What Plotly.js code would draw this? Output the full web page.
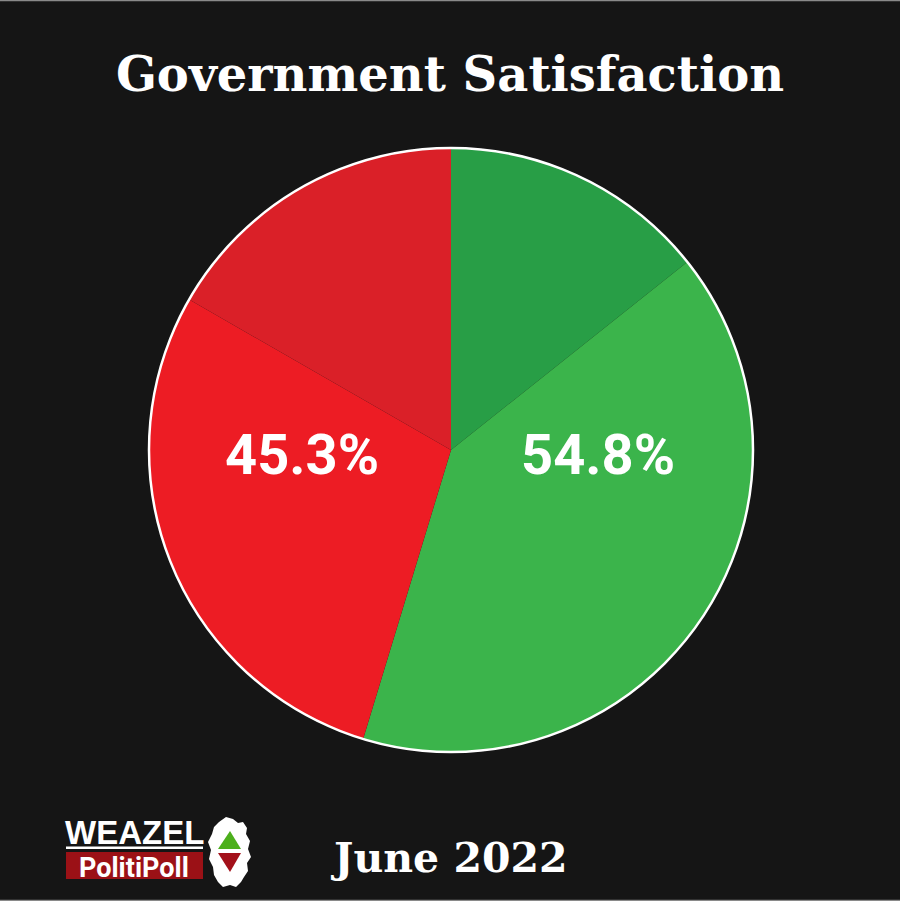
<!DOCTYPE html>
<html>
<head>
<meta charset="utf-8">
<script src="https://cdn.plot.ly/plotly-3.0.1.min.js"></script>
<style>html,body{margin:0;padding:0;background:#151515;}#chart{width:900px;height:901px;}</style>
</head>
<body>
<div id="chart"></div>
<script>
// Data
const categories = ["Very satisfied", "Satisfied", "Dissatisfied", "Very dissatisfied"];
const shares = [14.3, 40.4, 28.6, 16.7];
const sliceColors = ["#289e46", "#3bb44b", "#ed1c24", "#da2028"];
const groupLabels = ["54.8%", "45.3%"];
const titleText = "Government Satisfaction";
const dateText = "June 2022";

const W = 900, H = 901;
const px = x => x / W;
const py = y => 1 - y / H;
const dom = {x: [px(148), px(754)], y: [py(752), py(148)]};

const traces = [
  {
    type: "pie",
    labels: categories,
    values: shares,
    sort: false,
    direction: "clockwise",
    rotation: 0,
    marker: {colors: sliceColors, line: {width: 0}},
    textinfo: "none",
    hoverinfo: "label+percent",
    showlegend: false,
    domain: dom
  },
  {
    type: "pie",
    labels: ["outline"],
    values: [shares.reduce((a, b) => a + b, 0)],
    sort: false,
    marker: {colors: ["rgba(0,0,0,0)"], line: {color: "#ffffff", width: 2.5}},
    textinfo: "none",
    hoverinfo: "skip",
    showlegend: false,
    domain: dom
  }
];

function pathFrom(pts) {
  return "M " + pts.map(p => px(p[0]) + "," + py(p[1])).join(" L ") + " Z";
}

const island = [[226,817],[233,819],[238,823],[243,822],[247,828],[246,834],[250,841],[248,849],[251,857],[247,863],[248,871],[244,877],[241,882],[236,887],[230,885],[223,887],[218,882],[214,875],[213,867],[209,859],[211,850],[208,842],[212,834],[214,827],[219,822]];

const A = (text, x, y, size, family, yanchor) => ({
  text: text, xref: "paper", yref: "paper", x: px(x), y: py(y),
  xanchor: "center", yanchor: yanchor || "middle", showarrow: false,
  borderpad: 0,
  font: {family: family, size: size, color: "#ffffff", weight: "bold"}
});

const shapes = [
  {type: "line", xref: "paper", yref: "paper", x0: 0, x1: 1, y0: py(0.5), y1: py(0.5), line: {color: "#8a8a8a", width: 1.5}},
  {type: "line", xref: "paper", yref: "paper", x0: 0, x1: 1, y0: py(900.5), y1: py(900.5), line: {color: "#8a8a8a", width: 1.5}},
  {type: "rect", xref: "paper", yref: "paper", x0: px(66), x1: px(203), y0: py(852), y1: py(879), fillcolor: "#9b1116", line: {width: 0}},
  {type: "rect", xref: "paper", yref: "paper", x0: px(66), x1: px(203), y0: py(846.5), y1: py(849), fillcolor: "#ffffff", line: {width: 0}},
  {type: "path", xref: "paper", yref: "paper", path: pathFrom(island), fillcolor: "#ffffff", line: {width: 0}},
  {type: "path", xref: "paper", yref: "paper", path: pathFrom([[230,831],[241,849],[218,849]]), fillcolor: "#4caf1c", line: {width: 0}},
  {type: "path", xref: "paper", yref: "paper", path: pathFrom([[218,853],[241,853],[230,872]]), fillcolor: "#a3111a", line: {width: 0}}
];

const annotations = [
  A(groupLabels[0], 598, 455, 56, "Roboto"),
  A(groupLabels[1], 302, 455, 56, "Roboto"),
  A(dateText, 449, 858, 41, "DejaVu Serif"),
  A("WEAZEL", 134, 852, 33, "Liberation Sans", "bottom"),
  A("PolitiPoll", 134, 851, 27, "Roboto", "top")
];

const layout = {
  width: W, height: H,
  margin: {l: 0, r: 0, t: 0, b: 0},
  paper_bgcolor: "#151515",
  plot_bgcolor: "#151515",
  showlegend: false,
  title: {text: titleText, x: 0.5, xanchor: "center", y: py(74), yanchor: "middle",
          font: {family: "DejaVu Serif", size: 48, color: "#ffffff", weight: "bold"}},
  shapes: shapes,
  annotations: annotations
};

Plotly.newPlot("chart", traces, layout, {displayModeBar: false, staticPlot: true});
</script>
</body>
</html>
